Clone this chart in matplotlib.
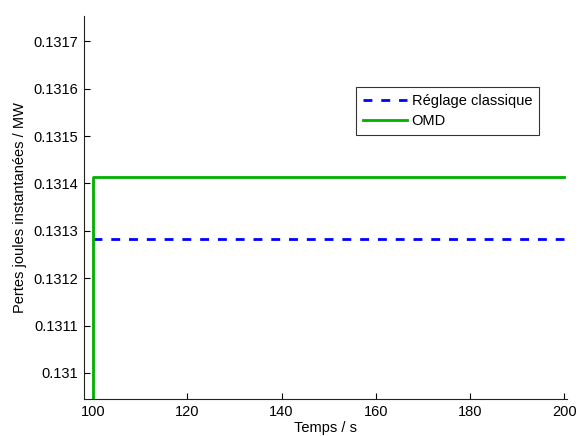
import matplotlib
matplotlib.use("Agg")
import matplotlib.pyplot as plt

plt.rcParams['font.family'] = ['Liberation Sans', 'DejaVu Sans']

t_classique = [100, 200]
p_classique = [0.131283, 0.131283]
t_omd = [100, 100, 200]
p_omd = [0.1300, 0.131413, 0.131413]
xticks = [100, 120, 140, 160, 180, 200]
yticks = [0.1310, 0.1311, 0.1312, 0.1313, 0.1314, 0.1315, 0.1316, 0.1317]
ytick_labels = ['0.131', '0.1311', '0.1312', '0.1313', '0.1314', '0.1315', '0.1316', '0.1317']

fig = plt.figure(figsize=(5.78, 4.36), dpi=100)
ax = fig.add_axes([0.1453, 0.0849, 0.836, 0.878])

ax.plot(t_classique, p_classique, color='#0000ff', lw=2.0, dashes=(3.2, 3.2),
        label='Réglage classique')
ax.plot(t_omd, p_omd, color='#00b000', lw=2.0, label='OMD')

ax.set_xlim(98.1, 200.6)
ax.set_ylim(0.130945, 0.131753)
ax.set_xticks(xticks)
ax.set_yticks(yticks)
ax.set_yticklabels(ytick_labels)
ax.tick_params(direction='in', length=4, width=0.8, labelsize=10.5, colors='black', pad=4)
for s in ['top', 'right']:
    ax.spines[s].set_visible(False)
for s in ['left', 'bottom']:
    ax.spines[s].set_linewidth(0.8)
    ax.spines[s].set_color('#222222')

ax.set_xlabel('Temps / s', fontsize=10.5, labelpad=2)
ax.set_ylabel('Pertes joules instantanées / MW', fontsize=10.5, labelpad=5)

leg = ax.legend(loc='upper left', bbox_to_anchor=(0.562, 0.815), fontsize=10.5,
                frameon=True, fancybox=False, handlelength=3.0, handletextpad=0.35,
                borderpad=0.5, labelspacing=0.4, borderaxespad=0)
leg.get_frame().set_edgecolor('black')
leg.get_frame().set_linewidth(0.8)

fig.savefig('out.png', dpi=100)
